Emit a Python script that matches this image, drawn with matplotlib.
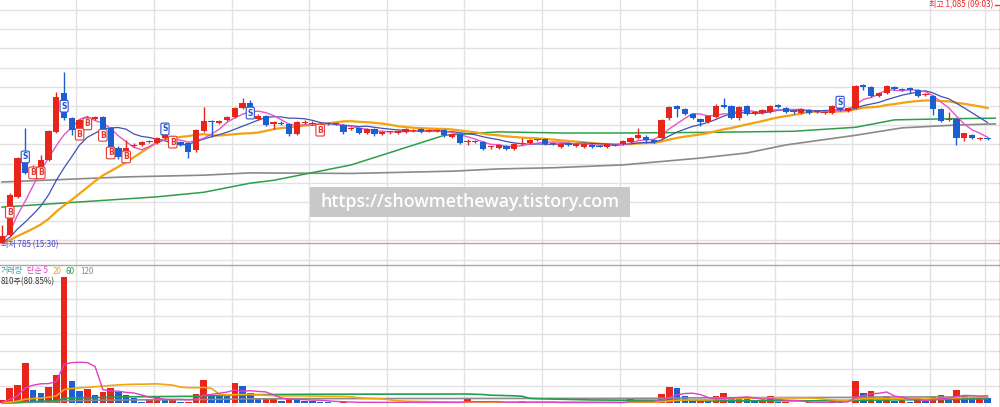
import numpy as np
import pandas as pd
import matplotlib
matplotlib.use('Agg')
import matplotlib.pyplot as plt
from matplotlib.patches import Rectangle
from matplotlib.lines import Line2D

plt.rcParams['font.family'] = ['Noto Sans CJK KR', 'DejaVu Sans']

# ---------------- data ----------------
opens = [785, 799, 866, 943, 910, 918, 931, 980, 1048, 1004,
         987, 997, 1003, 1006, 987, 952, 943, 955, 957, 962,
         960, 969, 969, 962, 960, 948, 981, 999, 995, 1001,
         1006, 1022, 1031, 1003, 1008, 994, 996, 994, 976, 995,
         994, 992, 995, 994, 992, 985, 987, 978, 985, 976,
         979, 978, 980, 981, 985, 982, 982, 983, 971, 976,
         962, 962, 962, 953, 952, 955, 950, 959, 960, 965,
         967, 959, 953, 960, 955, 953, 957, 955, 953, 956,
         959, 962, 969, 971, 966, 969, 1004, 1025, 1020, 1011,
         1003, 997, 1006, 1027, 1025, 1004, 1025, 1011, 1013, 1015,
         1027, 1022, 1015, 1013, 1018, 1015, 1013, 1013, 1024, 1017,
         1022, 1062, 1059, 1043, 1048, 1059, 1055, 1057, 1053, 1045,
         1043, 1020, 1001, 1003, 969, 974, 968, 969]
highs = [817, 873, 936, 987, 921, 939, 983, 1050, 1085, 1006,
         1003, 1008, 1008, 1008, 988, 955, 966, 960, 964, 966,
         971, 980, 973, 964, 962, 985, 1024, 1001, 1001, 1008,
         1024, 1039, 1036, 1011, 1010, 999, 999, 995, 999, 1001,
         999, 997, 997, 995, 994, 988, 988, 987, 987, 981,
         981, 983, 987, 985, 987, 985, 985, 985, 978, 978,
         967, 966, 964, 955, 959, 957, 960, 969, 967, 967,
         969, 962, 960, 962, 960, 960, 959, 957, 960, 959,
         966, 971, 987, 974, 967, 1003, 1025, 1027, 1022, 1013,
         1004, 1010, 1029, 1039, 1027, 1025, 1027, 1017, 1020, 1027,
         1029, 1024, 1017, 1022, 1020, 1017, 1017, 1027, 1025, 1024,
         1062, 1064, 1060, 1050, 1062, 1060, 1057, 1059, 1055, 1048,
         1045, 1022, 1015, 1004, 978, 976, 971, 971]
lows = [785, 797, 864, 906, 906, 916, 929, 978, 1001, 974,
        983, 995, 1001, 981, 934, 932, 941, 953, 955, 960,
        959, 967, 959, 955, 934, 945, 980, 971, 994, 999,
        1004, 1020, 1013, 1001, 990, 985, 992, 973, 974, 994,
        992, 990, 992, 992, 976, 983, 976, 976, 973, 974,
        976, 976, 978, 980, 978, 980, 980, 971, 969, 959,
        957, 960, 948, 950, 950, 948, 948, 957, 959, 964,
        957, 957, 952, 955, 953, 952, 952, 953, 952, 955,
        957, 960, 967, 960, 960, 967, 1001, 1006, 1010, 1003,
        990, 995, 1004, 1022, 1003, 1001, 1010, 1010, 1011, 1013,
        1022, 1013, 1011, 1011, 1011, 1013, 1011, 1011, 1017, 1015,
        1020, 1053, 1041, 1041, 1046, 1053, 1052, 1048, 1041, 1043,
        1010, 997, 999, 957, 964, 967, 966, 966]
closes = [798, 869, 934, 908, 918, 931, 981, 1041, 1004, 983,
          1001, 1004, 1006, 983, 936, 936, 952, 957, 962, 964,
          969, 978, 960, 957, 945, 983, 999, 997, 999, 1006,
          1022, 1031, 1015, 1008, 992, 997, 994, 976, 997, 997,
          995, 994, 994, 993, 980, 987, 978, 985, 976, 980,
          980, 981, 985, 982, 980, 983, 983, 974, 976, 960,
          964, 962, 950, 954, 957, 950, 959, 960, 966, 966,
          959, 960, 959, 957, 959, 959, 953, 954, 959, 957,
          964, 969, 974, 966, 962, 1001, 1024, 1020, 1011, 1004,
          997, 1008, 1025, 1024, 1004, 1024, 1011, 1015, 1018, 1025,
          1024, 1015, 1014, 1020, 1013, 1014, 1015, 1025, 1018, 1022,
          1060, 1059, 1043, 1048, 1060, 1055, 1054, 1053, 1043, 1046,
          1020, 999, 1003, 969, 978, 969, 969, 968]
volumes = [3000, 15000, 18000, 40000, 13000, 10000, 16000, 28000, 126000, 22000,
           12000, 14000, 8000, 11000, 15000, 11000, 8000, 5000, 1000, 4000,
           6000, 3000, 4000, 1200, 1500, 9000, 23000, 8000, 7500, 7000,
           20000, 17000, 10000, 4000, 4500, 4600, 2000, 4000, 3500, 2500,
           2400, 1500, 1000, 500, 1000, 500, 500, 1000, 500, 500,
           1000, 500, 500, 500, 1000, 500, 500, 1000, 500, 500,
           4000, 500, 1500, 500, 500, 500, 500, 2000, 500, 500,
           500, 500, 500, 500, 500, 500, 500, 500, 500, 500,
           500, 5000, 1000, 500, 500, 9000, 16000, 15000, 7000, 2000,
           2000, 1800, 7000, 10000, 4000, 5000, 4500, 2000, 3000, 7000,
           1000, 1500, 500, 500, 1000, 500, 500, 2000, 1500, 500,
           22000, 10000, 12000, 4000, 7000, 2000, 4000, 1000, 4000, 2000,
           6000, 8000, 4000, 13000, 7000, 5000, 6000, 5000]

prev_close = 785      # flat price before the first bar (where the MA lines start)
prev_volume = 0       # no trading before the first bar

ma60_idx = [0, 10, 20, 26, 32, 35, 45, 51, 57, 64, 72, 80, 90, 102, 110, 115, 122, 128]
ma60_val = [848, 857, 866, 874, 890, 895, 922, 948, 974, 980, 978, 978, 979, 981, 988, 1001, 1003, 1004]
ma120_idx = [0, 16, 26, 32, 45, 58, 64, 71, 80, 90, 96, 101, 110, 116, 123, 128]
ma120_val = [892, 901, 904, 908, 907, 911, 915, 917, 922, 934, 943, 957, 974, 987, 992, 994]

buy_idx = [1, 4, 5, 10, 11, 13, 14, 16, 22, 41]
buy_price = [839, 908, 908, 976, 994, 974, 943, 936, 962, 983]
sell_idx = [3, 8, 21, 32, 108]
sell_price = [936, 1025, 985, 1013, 1032]

high_label = '최고 1,085 (09:03)'
low_label = '최저 785 (15:30)'
low_price = 785
vol_legend = [('거래량', '#3aa9a9'), ('단순 5', '#e040c4'), ('20', '#f2a60c'),
              ('60', '#22a04c'), ('120', '#8c8c8c')]
vol_info = '810주(80.85%)'
watermark = 'https://showmetheway.tistory.com'

# ---------------- layout ----------------
W, H = 1000, 407
SEP = 265            # pixel row of panel separator
X0, DX = 2.0, 7.76   # pixel x of first candle, pixel spacing
PPX = 300 / 171      # price units per pixel
YREF = 243           # pixel row of low_price
VB = 403             # pixel row of volume baseline
VU = 1000            # volume units per pixel

RED = '#e8251b'
BLUE = '#1b5fd0'
GRID = '#e2e2e2'

fig = plt.figure(figsize=(W / 100, H / 100), dpi=100)
fig.patch.set_facecolor('white')
ax_p = fig.add_axes([0, (H - SEP) / H, 1, SEP / H])
ax_v = fig.add_axes([0, 0, 1, (H - SEP) / H])
for ax in (ax_p, ax_v):
    ax.set_axis_off()
    ax.set_xlim(-X0 / DX, (W - X0) / DX)


def py(y):
    return low_price + (YREF - y) * PPX


ax_p.set_ylim(py(SEP), py(0))
ax_v.set_ylim((VB - H) * VU, (VB - SEP) * VU)

# grid
vx = [9.6 + 10 * k for k in range(12)] + [126.7]
for ax in (ax_p, ax_v):
    for v in vx:
        ax.axvline(v, color=GRID, lw=1, zorder=0)
for k in range(14):
    ax_p.axhline(py(10 + 19.2 * k), color=GRID, lw=1, zorder=0)
for k in range(7):
    ax_v.axhline((VB - (281 + 17.5 * k)) * VU, color=GRID, lw=1, zorder=0)

n = len(closes)
x = np.arange(n)
o = np.array(opens, float)
c = np.array(closes, float)
h = np.array(highs, float)
l = np.array(lows, float)
up = c >= o
cols = [RED if u else BLUE for u in up]


def sma(values, win, pad):
    s = pd.Series([pad] * (win - 1) + list(values), dtype=float)
    return s.rolling(win).mean().to_numpy()[win - 1:]


# moving averages (price)
ax_p.plot(ma120_idx, ma120_val, color='#8a8a8a', lw=1.2, zorder=2)
ax_p.plot(ma60_idx, ma60_val, color='#2e9e48', lw=1.1, zorder=2)
ax_p.plot(x, sma(closes, 20, prev_close), color='#f2a30f', lw=1.6, zorder=2)
ax_p.plot(x, sma(closes, 10, prev_close), color='#3f51b5', lw=0.9, zorder=2)
ax_p.plot(x, sma(closes, 5, prev_close), color='#e455c8', lw=1.0, zorder=2)

# low line
ax_p.axhline(low_price, color='#f08c8c', lw=1, zorder=1)

# candles
ax_p.vlines(x, l, h, colors=cols, lw=1, zorder=3)
body_h = np.maximum(np.abs(c - o), 1.0 * PPX)
ax_p.bar(x, body_h, bottom=np.minimum(o, c), width=0.8, color=cols, lw=0, zorder=4)

# buy / sell markers
for i, p in zip(buy_idx, buy_price):
    ax_p.text(i, p, 'B', color='#e53935', fontsize=5.5, fontweight='bold',
              ha='center', va='center', family='DejaVu Sans', zorder=6,
              bbox=dict(boxstyle='round,pad=0.18', fc='white', ec='#e53935', lw=0.8))
for i, p in zip(sell_idx, sell_price):
    ax_p.text(i, p, 'S', color='#2a4fd0', fontsize=5.5, fontweight='bold',
              ha='center', va='center', family='DejaVu Sans', zorder=6,
              bbox=dict(boxstyle='round,pad=0.18', fc='white', ec='#2a4fd0', lw=0.8))

# volume
vol = np.array(volumes, float)
prev = np.concatenate([[prev_volume], vol[:-1]])
vcols = [RED if v >= pv else BLUE for v, pv in zip(vol, prev)]
ax_v.bar(x, vol, width=0.85, color=vcols, lw=0, zorder=3)
ax_v.plot(x, sma(volumes, 120, prev_volume), color='#8c8c8c', lw=1.2, zorder=4)
ax_v.plot(x, sma(volumes, 60, prev_volume), color='#22a04c', lw=1.2, zorder=4)
ax_v.plot(x, sma(volumes, 20, prev_volume), color='#f2a60c', lw=1.2, zorder=4)
ax_v.plot(x, sma(volumes, 5, prev_volume), color='#e040c4', lw=1.0, zorder=4)

# separator / right red line
fig.add_artist(Line2D([0, 1], [1 - SEP / H] * 2, color='#a8a8a8', lw=1,
                      transform=fig.transFigure, zorder=5))
fig.add_artist(Line2D([999.5 / W] * 2, [0, 1 - 7 / H], color='#e53935', lw=1,
                      transform=fig.transFigure, zorder=5))
fig.add_artist(Line2D([994.5 / W, 999 / W], [1 - 5 / H] * 2, color='#e53935', lw=1,
                      transform=fig.transFigure, zorder=5))

# texts
fig.text(993 / W, 1 - 5 / H, high_label, color='#e8262b', fontsize=5.8,
         ha='right', va='center')
fig.text(1 / W, 1 - 244.5 / H, low_label, color='#3b4fd8', fontsize=5.8,
         ha='left', va='center')

lx = [1, 27, 53, 66, 80]
for (t, col), xx in zip(vol_legend, lx):
    fig.text(xx / W, 1 - 271 / H, t, color=col, fontsize=5.8, ha='left', va='center')
fig.text(1 / W, 1 - 281.5 / H, vol_info, color='#333333', fontsize=5.8, ha='left', va='center')

# watermark
fig.add_artist(Rectangle((310 / W, 1 - 217 / H), 320 / W, 30 / H, transform=fig.transFigure,
                         facecolor='#c8c8c8', edgecolor='none', zorder=10))
fig.text(470 / W, 1 - 202 / H, watermark, color='white', fontsize=12.8, ha='center',
         va='center', family='Open Sans', fontweight='semibold', zorder=11)

fig.savefig('out.png', dpi=100)
